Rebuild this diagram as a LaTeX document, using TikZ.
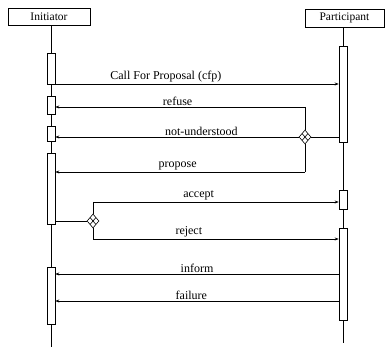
\documentclass[tikz,border=0pt]{standalone}
\usepackage{fontspec}
\setmainfont{Liberation Serif}
\usetikzlibrary{arrows.meta,shapes.geometric,calc}
\tikzset{
  head/.style={draw, rectangle, minimum height=17pt, inner sep=0pt, font=\fontsize{11.5}{13}\selectfont},
  act/.style={draw, fill=white, rectangle, minimum width=8pt, inner sep=0pt},
  choice/.style={draw, fill=white, diamond, minimum width=12pt, minimum height=14pt, inner sep=0pt,
    path picture={\draw ($(path picture bounding box.north)!0.5!(path picture bounding box.east)$) -- ($(path picture bounding box.south)!0.5!(path picture bounding box.west)$);
      \draw ($(path picture bounding box.north)!0.5!(path picture bounding box.west)$) -- ($(path picture bounding box.south)!0.5!(path picture bounding box.east)$);}},
  msg/.style={font=\fontsize{12}{14}\selectfont, inner sep=1.5pt}
}
\begin{document}
\begin{tikzpicture}[x=1pt, y=-1pt, line width=0.6pt, >={Stealth[length=4pt,width=3pt]}]
	\useasboundingbox (0,0) rectangle (385,347);
	% lifelines
	\node[head, minimum width=82pt] (init) at (49,16.5) {Initiator};
	\node[head, minimum width=79pt, minimum height=18pt] (part) at (344.5,18) {Participant};
	\coordinate (iend) at (51,347);
	\coordinate (pend) at (343,343);
	\draw (init.south -| iend) -- (iend);
	\draw (part.south -| pend) -- (pend);
	% activations
	\node[act, minimum height=31pt] (i1) at (51,68.5) {};
	\node[act, minimum height=18pt] (i2) at (51,105) {};
	\node[act, minimum height=15pt] (i3) at (51,133.5) {};
	\node[act, minimum height=71pt] (i4) at (51,188.5) {};
	\node[act, minimum height=57pt] (i5) at (51,295.5) {};
	\node[act, minimum height=96pt] (p1) at (343,94) {};
	\node[act, minimum height=19pt] (p2) at (343,199.5) {};
	\node[act, minimum height=92pt] (p3) at (343,274) {};
	% choices
	\node[choice] (d1) at (305,137) {};
	\node[choice] (d2) at (93,221) {};
	\coordinate (r1) at (305,107);
	\coordinate (r2) at (305,172);
	\coordinate (a1) at (93,202);
	\coordinate (a2) at (93,239);
	\draw (r1) -- (d1.north);
	\draw (d1.south) -- (r2);
	\draw (a1) -- (d2.north);
	\draw (d2.south) -- (a2);
	% messages
	\path[->] (i1.east |- 0,84) edge node[msg, above, pos=0.39] {Call For Proposal (cfp)} (p1.west |- 0,84);
	\path[->] (r1) edge node[msg, above, pos=0.51] {refuse} (i2.east |- r1);
	\path (p1.west |- d1) edge (d1.east);
	\path[->] (d1.west) edge node[msg, above, pos=0.4] {not-understood} (i3.east |- d1);
	\path[->] (r2) edge node[msg, above, pos=0.51] {propose} (i4.east |- r2);
	\path (i4.east |- d2) edge (d2.west);
	\path[->] (a1) edge node[msg, above, pos=0.43] {accept} (p2.west |- a1);
	\path[->] (a2) edge node[msg, above, pos=0.39] {reject} (p3.west |- a2);
	\path[->] (p3.west |- 0,274) edge node[msg, above, pos=0.5] {inform} (i5.east |- 0,274);
	\path[->] (p3.west |- 0,301) edge node[msg, above, pos=0.52] {failure} (i5.east |- 0,301);
\end{tikzpicture}
\end{document}
